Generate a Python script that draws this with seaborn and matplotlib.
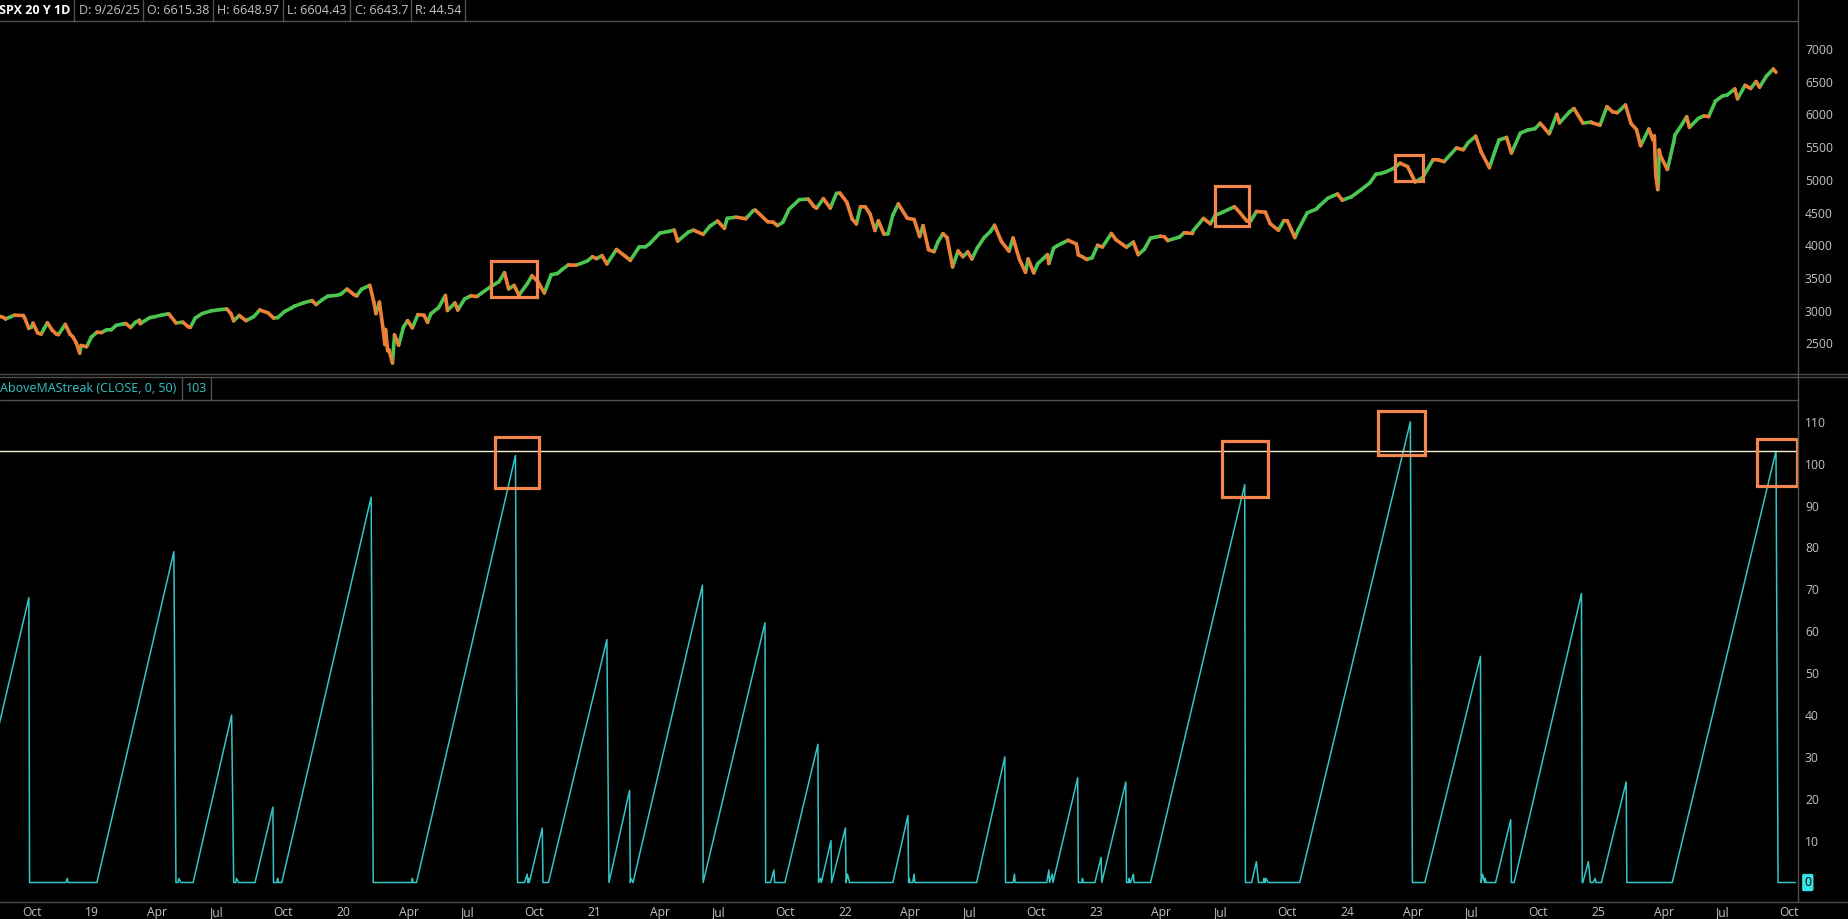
import pandas as pd
import seaborn as sns
import matplotlib.pyplot as plt
import matplotlib.dates as mdates
from matplotlib.patches import Rectangle
from matplotlib.lines import Line2D

# SPX closes (approx.), one list per year
spx_2018 = [("2018-08-24", 2875), ("2018-08-29", 2914), ("2018-09-04", 2896), ("2018-09-07", 2872),
            ("2018-09-20", 2930), ("2018-10-03", 2925), ("2018-10-05", 2885), ("2018-10-11", 2728),
            ("2018-10-15", 2750), ("2018-10-17", 2809), ("2018-10-24", 2656), ("2018-10-29", 2641),
            ("2018-11-02", 2723), ("2018-11-07", 2813), ("2018-11-14", 2701), ("2018-11-20", 2641),
            ("2018-11-23", 2633), ("2018-12-03", 2790), ("2018-12-10", 2637), ("2018-12-14", 2600),
            ("2018-12-19", 2506), ("2018-12-24", 2351), ("2018-12-26", 2467)]
spx_2019 = [("2019-01-03", 2448), ("2019-01-10", 2596), ("2019-01-18", 2670), ("2019-01-25", 2665),
            ("2019-02-01", 2707), ("2019-02-08", 2708), ("2019-02-15", 2775), ("2019-02-25", 2796),
            ("2019-03-01", 2803), ("2019-03-08", 2743), ("2019-03-15", 2822), ("2019-03-21", 2854),
            ("2019-03-22", 2801), ("2019-04-05", 2893), ("2019-04-12", 2907), ("2019-04-23", 2934),
            ("2019-04-30", 2946), ("2019-05-03", 2946), ("2019-05-13", 2812), ("2019-05-23", 2823),
            ("2019-05-31", 2752), ("2019-06-03", 2744), ("2019-06-10", 2886), ("2019-06-20", 2954),
            ("2019-07-03", 2996), ("2019-07-15", 3014), ("2019-07-26", 3025), ("2019-08-01", 2954),
            ("2019-08-05", 2844), ("2019-08-13", 2926), ("2019-08-23", 2847), ("2019-09-03", 2906),
            ("2019-09-12", 3009), ("2019-09-24", 2966), ("2019-10-02", 2887), ("2019-10-08", 2893),
            ("2019-10-18", 2986), ("2019-10-28", 3039), ("2019-11-01", 3067), ("2019-11-15", 3120),
            ("2019-11-27", 3153), ("2019-12-03", 3093), ("2019-12-12", 3168), ("2019-12-20", 3221)]
spx_2020 = [("2020-01-03", 3235), ("2020-01-08", 3253), ("2020-01-17", 3329), ("2020-01-27", 3244),
            ("2020-01-31", 3225), ("2020-02-07", 3327), ("2020-02-19", 3386), ("2020-02-25", 3128),
            ("2020-02-28", 2954), ("2020-03-04", 3130), ("2020-03-09", 2746), ("2020-03-12", 2481),
            ("2020-03-13", 2711), ("2020-03-16", 2386), ("2020-03-18", 2398), ("2020-03-23", 2200),
            ("2020-03-26", 2630), ("2020-04-01", 2471), ("2020-04-08", 2750), ("2020-04-14", 2846),
            ("2020-04-21", 2737), ("2020-04-29", 2939), ("2020-05-08", 2930), ("2020-05-13", 2820),
            ("2020-05-18", 2954), ("2020-05-29", 3044), ("2020-06-08", 3232), ("2020-06-11", 3002),
            ("2020-06-22", 3117), ("2020-06-26", 3009), ("2020-07-06", 3179), ("2020-07-15", 3226),
            ("2020-07-24", 3216), ("2020-07-31", 3271), ("2020-08-14", 3373), ("2020-08-25", 3443),
            ("2020-09-02", 3580), ("2020-09-08", 3332), ("2020-09-16", 3385), ("2020-09-23", 3237),
            ("2020-10-05", 3408), ("2020-10-12", 3534), ("2020-10-21", 3435), ("2020-10-30", 3270),
            ("2020-11-09", 3550), ("2020-11-18", 3567), ("2020-11-25", 3630), ("2020-12-04", 3699),
            ("2020-12-15", 3694), ("2020-12-31", 3756)]
spx_2021 = [("2021-01-08", 3824), ("2021-01-14", 3795), ("2021-01-22", 3841), ("2021-01-29", 3714),
            ("2021-02-12", 3934), ("2021-02-25", 3829), ("2021-03-04", 3768), ("2021-03-17", 3974),
            ("2021-03-26", 3975), ("2021-04-01", 4020), ("2021-04-16", 4185), ("2021-04-29", 4211),
            ("2021-05-07", 4232), ("2021-05-12", 4063), ("2021-05-28", 4204), ("2021-06-04", 4230),
            ("2021-06-18", 4166), ("2021-06-28", 4292), ("2021-07-09", 4370), ("2021-07-19", 4258),
            ("2021-07-23", 4411), ("2021-08-05", 4429), ("2021-08-19", 4405), ("2021-08-30", 4529),
            ("2021-09-02", 4537), ("2021-09-20", 4358), ("2021-09-28", 4352), ("2021-10-04", 4300),
            ("2021-10-12", 4350), ("2021-10-21", 4550), ("2021-11-05", 4697), ("2021-11-18", 4705),
            ("2021-11-26", 4595), ("2021-11-30", 4567), ("2021-12-10", 4712), ("2021-12-20", 4568),
            ("2021-12-29", 4793)]
spx_2022 = [("2022-01-03", 4797), ("2022-01-13", 4659), ("2022-01-21", 4398), ("2022-01-27", 4326),
            ("2022-02-02", 4589), ("2022-02-09", 4587), ("2022-02-16", 4475), ("2022-02-23", 4225),
            ("2022-02-28", 4374), ("2022-03-08", 4170), ("2022-03-14", 4173), ("2022-03-21", 4461),
            ("2022-03-29", 4632), ("2022-04-11", 4413), ("2022-04-21", 4393), ("2022-04-29", 4132),
            ("2022-05-04", 4300), ("2022-05-12", 3930), ("2022-05-20", 3901), ("2022-05-26", 4057),
            ("2022-06-02", 4177), ("2022-06-08", 4116), ("2022-06-16", 3667), ("2022-06-24", 3912),
            ("2022-07-01", 3825), ("2022-07-08", 3899), ("2022-07-14", 3790), ("2022-07-22", 3961),
            ("2022-08-01", 4119), ("2022-08-10", 4210), ("2022-08-16", 4305), ("2022-08-26", 4057),
            ("2022-09-06", 3909), ("2022-09-12", 4110), ("2022-09-21", 3789), ("2022-09-30", 3586),
            ("2022-10-04", 3791), ("2022-10-12", 3577), ("2022-10-18", 3720), ("2022-10-27", 3807),
            ("2022-11-01", 3856), ("2022-11-03", 3720), ("2022-11-10", 3956), ("2022-11-15", 3991),
            ("2022-12-01", 4076), ("2022-12-13", 4019), ("2022-12-16", 3852), ("2022-12-22", 3822),
            ("2022-12-28", 3783)]
spx_2023 = [("2023-01-05", 3808), ("2023-01-13", 3999), ("2023-01-20", 3972), ("2023-02-02", 4179),
            ("2023-02-09", 4081), ("2023-02-24", 3970), ("2023-03-06", 4048), ("2023-03-13", 3856),
            ("2023-03-22", 3937), ("2023-03-31", 4109), ("2023-04-14", 4137), ("2023-04-20", 4130),
            ("2023-04-25", 4071), ("2023-05-12", 4124), ("2023-05-19", 4191), ("2023-05-31", 4180),
            ("2023-06-01", 4221), ("2023-06-16", 4410), ("2023-06-26", 4328), ("2023-07-03", 4455),
            ("2023-07-14", 4505), ("2023-07-31", 4589), ("2023-08-08", 4499), ("2023-08-18", 4370),
            ("2023-08-24", 4376), ("2023-09-01", 4516), ("2023-09-14", 4505), ("2023-09-21", 4330),
            ("2023-10-03", 4229), ("2023-10-11", 4376), ("2023-10-16", 4373), ("2023-10-27", 4117),
            ("2023-11-01", 4238), ("2023-11-14", 4496), ("2023-11-27", 4550), ("2023-12-01", 4594),
            ("2023-12-14", 4719), ("2023-12-28", 4783)]
spx_2024 = [("2024-01-04", 4688), ("2024-01-17", 4739), ("2024-01-31", 4846), ("2024-02-13", 4953),
            ("2024-02-22", 5087), ("2024-02-29", 5096), ("2024-03-08", 5124), ("2024-03-19", 5178),
            ("2024-03-28", 5254), ("2024-04-08", 5202), ("2024-04-19", 4967), ("2024-04-30", 5036),
            ("2024-05-15", 5308), ("2024-05-22", 5307), ("2024-05-31", 5278), ("2024-06-18", 5487),
            ("2024-06-28", 5460), ("2024-07-05", 5567), ("2024-07-16", 5667), ("2024-07-24", 5427),
            ("2024-08-05", 5186), ("2024-08-13", 5434), ("2024-08-19", 5608), ("2024-08-30", 5648),
            ("2024-09-06", 5408), ("2024-09-19", 5713), ("2024-09-30", 5762), ("2024-10-10", 5780),
            ("2024-10-18", 5864), ("2024-10-31", 5705), ("2024-11-01", 5728), ("2024-11-11", 6001),
            ("2024-11-15", 5870), ("2024-11-29", 6032), ("2024-12-06", 6090), ("2024-12-19", 5867),
            ("2024-12-31", 5882)]
spx_2025 = [("2025-01-02", 5868), ("2025-01-13", 5836), ("2025-01-23", 6119), ("2025-01-31", 6041),
            ("2025-02-07", 6026), ("2025-02-19", 6144), ("2025-02-27", 5861), ("2025-03-07", 5770),
            ("2025-03-13", 5521), ("2025-03-25", 5777), ("2025-03-31", 5612), ("2025-04-02", 5671),
            ("2025-04-04", 5074), ("2025-04-07", 4850), ("2025-04-08", 4982), ("2025-04-09", 5457),
            ("2025-04-11", 5363), ("2025-04-21", 5158), ("2025-04-30", 5569), ("2025-05-02", 5686),
            ("2025-05-12", 5844), ("2025-05-19", 5963), ("2025-05-23", 5802), ("2025-06-05", 5939),
            ("2025-06-13", 5977), ("2025-06-20", 5967), ("2025-06-30", 6205), ("2025-07-10", 6280),
            ("2025-07-17", 6297), ("2025-07-28", 6389), ("2025-08-01", 6238), ("2025-08-12", 6445),
            ("2025-08-20", 6396), ("2025-08-28", 6502), ("2025-09-02", 6416), ("2025-09-12", 6584),
            ("2025-09-22", 6693), ("2025-09-26", 6644)]

# AboveMAStreak: each streak = (day it starts from 0, day of its peak, peak count)
streak_start = [
    "2018-07-06", "2018-12-04", "2019-01-18", "2019-05-16", "2019-06-07", "2019-08-08", "2019-09-05",
    "2019-10-07", "2019-10-14", "2020-04-20", "2020-04-27", "2020-10-01", "2020-10-06", "2020-10-08",
    "2020-11-05", "2021-02-01", "2021-03-04", "2021-03-08", "2021-06-18", "2021-09-24", "2021-10-15",
    "2021-12-03", "2021-12-07", "2021-12-22", "2022-01-12", "2022-03-21", "2022-04-13", "2022-04-19",
    "2022-07-21", "2022-09-12", "2022-10-31", "2022-11-04", "2022-11-09", "2022-12-21", "2023-01-09",
    "2023-01-19", "2023-02-27", "2023-03-02", "2023-03-31", "2023-08-25", "2023-09-11", "2023-09-14",
    "2023-11-03", "2024-05-03", "2024-07-24", "2024-07-29", "2024-08-14", "2024-09-10", "2024-12-19",
    "2025-01-03", "2025-01-15", "2025-04-28",
]
streak_peak_date = [
    "2018-10-11", "2018-12-06", "2019-05-10", "2019-05-17", "2019-08-02", "2019-08-09", "2019-10-01",
    "2019-10-08", "2020-02-21", "2020-04-21", "2020-09-18", "2020-10-05", "2020-10-07", "2020-10-27",
    "2021-01-29", "2021-03-03", "2021-03-05", "2021-06-17", "2021-09-16", "2021-09-29", "2021-12-02",
    "2021-12-06", "2021-12-21", "2022-01-11", "2022-01-14", "2022-04-12", "2022-04-14", "2022-04-21",
    "2022-08-31", "2022-09-14", "2022-11-03", "2022-11-08", "2022-12-15", "2022-12-22", "2023-01-18",
    "2023-02-23", "2023-02-28", "2023-03-06", "2023-08-15", "2023-09-01", "2023-09-12", "2023-09-15",
    "2024-04-12", "2024-07-23", "2024-07-26", "2024-07-30", "2024-09-05", "2024-12-17", "2024-12-27",
    "2025-01-06", "2025-02-20", "2025-09-26",
]
streak_peak = [
    68, 1, 79, 1, 40, 1, 18,
    1, 92, 1, 102, 2, 1, 13,
    58, 22, 1, 71, 62, 3, 33,
    1, 10, 13, 2, 16, 1, 2,
    30, 2, 3, 2, 25, 1, 6,
    24, 1, 2, 95, 5, 1, 1,
    110, 54, 2, 1, 15, 69, 5,
    1, 24, 103,
]
chart_end = "2025-10-24"
current_streak = 103

header_cells = ["D: 9/26/25", "O: 6615.38", "H: 6648.97", "L: 6604.43", "C: 6643.7", "R: 44.54"]

tick_dates = pd.date_range("2018-10-01", "2025-10-01", freq="QS-JAN")
tick_labels = [d.strftime("%y") if d.month == 1 else d.strftime("%b") for d in tick_dates]

# highlight boxes: (from, to, low, high)
price_boxes = [("2020-08-14", "2020-10-19", 3203, 3763),
               ("2023-07-03", "2023-08-21", 4289, 4901),
               ("2024-03-20", "2024-05-01", 4977, 5375)]
streak_boxes = [("2020-08-19", "2020-10-22", 94.3, 106.4),
                ("2023-07-13", "2023-09-18", 92.0, 105.3),
                ("2024-02-25", "2024-05-03", 102.1, 112.5),
                ("2025-08-29", "2025-10-27", 94.6, 105.8)]

GREEN, ORANGE, CYAN = "#4cc552", "#ee7f36", "#33c6c6"
BOX = "#f4854f"
GRID = "#505050"
TXT = "#c4c4c4"

sns.set_theme(style="dark", rc={"axes.facecolor": "black", "figure.facecolor": "black"})
plt.rcParams["font.family"] = ["Open Sans", "DejaVu Sans"]

W, H = 1849, 919
fig = plt.figure(figsize=(W / 100, H / 100), dpi=100)
fig.patch.set_facecolor("black")


def px_rect(x0, y0, x1, y1):
    return [x0 / W, 1 - y1 / H, (x1 - x0) / W, (y1 - y0) / H]


ax1 = fig.add_axes(px_rect(0, 21, 1798, 374))
ax2 = fig.add_axes(px_rect(0, 400, 1798, 902))

# price as up/down coloured segments
px = pd.DataFrame(spx_2018 + spx_2019 + spx_2020 + spx_2021 + spx_2022 + spx_2023 + spx_2024 + spx_2025,
                  columns=["date", "close"])
px["date"] = pd.to_datetime(px["date"])
px = px.sort_values("date").reset_index(drop=True)
rows = []
for i in range(1, len(px)):
    d = "up" if px.close[i] >= px.close[i - 1] else "down"
    rows.append((i, d, px.date[i - 1], px.close[i - 1]))
    rows.append((i, d, px.date[i], px.close[i]))
seg = pd.DataFrame(rows, columns=["seg", "dir", "date", "close"])
sns.lineplot(data=seg, x="date", y="close", units="seg", hue="dir", estimator=None, sort=False,
             palette={"up": GREEN, "down": ORANGE}, lw=2.6, legend=False, ax=ax1)

# streak vertices
sx, sy = [], []
for s, p, v in zip(streak_start, streak_peak_date, streak_peak):
    p = pd.Timestamp(p)
    sx += [pd.Timestamp(s), p, p + pd.offsets.BDay(1)]
    sy += [0, v, 0]
sx.append(pd.Timestamp(chart_end))
sy.append(0)
streak = pd.DataFrame({"date": sx, "value": sy})
sns.lineplot(data=streak, x="date", y="value", estimator=None, sort=False, color=CYAN, lw=1.1, ax=ax2)
ax2.axhline(current_streak, color="#f3efcf", lw=1)

for ax, boxes in ((ax1, price_boxes), (ax2, streak_boxes)):
    for a, b, lo, hi in boxes:
        x0 = mdates.date2num(pd.Timestamp(a))
        x1 = mdates.date2num(pd.Timestamp(b))
        ax.add_patch(Rectangle((x0, lo), x1 - x0, hi - lo, fill=False, ec=BOX, lw=2.3, zorder=5))

xlim = (pd.Timestamp("2018-08-30"), pd.Timestamp("2025-10-28"))
for ax in (ax1, ax2):
    ax.set_xlim(*xlim)
    ax.grid(False)
    ax.set_xlabel("")
    ax.set_ylabel("")
    for s in ax.spines.values():
        s.set_visible(False)
    ax.yaxis.tick_right()
    ax.tick_params(axis="both", length=0, labelsize=8.7, labelcolor=TXT)
    ax.tick_params(axis="y", pad=5)

ax1.set_ylim(2031, 7428)
ax1.set_yticks(range(2500, 7001, 500))
ax1.set_xticks([])

ax2.set_ylim(-4.65, 115.2)
ax2.set_yticks(range(10, 111, 10))
ax2.set_xticks(tick_dates)
ax2.set_xticklabels(tick_labels)
ax2.tick_params(axis="x", pad=3)
for lbl in ax2.get_xticklabels():
    lbl.set_ha("left")
ax2.text(1.0035, 0, "0", transform=ax2.get_yaxis_transform(), ha="left", va="center",
         fontsize=8.7, color="black",
         bbox=dict(boxstyle="round,pad=0.18,rounding_size=0.15", fc="#37e3e3", ec="none"))


def hline(y, x0=0, x1=W):
    fig.add_artist(Line2D([x0 / W, x1 / W], [1 - y / H] * 2, color=GRID, lw=1))


def vline(x, y0, y1):
    fig.add_artist(Line2D([x / W] * 2, [1 - y0 / H, 1 - y1 / H], color=GRID, lw=1))


hline(21, 0, 1798)
hline(374)
hline(377)
hline(400, 0, 1798)
hline(902)
vline(1798, 0, 902)

# header of price panel
fig.text(-1 / W, 1 - 10.5 / H, "SPX 20 Y 1D", color="white", weight="bold", fontsize=9, va="center")
cell_x = [79, 147.5, 217.5, 287.5, 354.7, 415]
for x, t in zip(cell_x, header_cells):
    fig.text(x / W, 1 - 10.5 / H, t, color=TXT, fontsize=9, va="center")
for x in [74, 143, 213.5, 283.5, 350, 411, 465.4]:
    vline(x, 0, 21)

# header of study panel
fig.text(0, 1 - 389 / H, "AboveMAStreak (CLOSE, 0, 50)", color=CYAN, fontsize=9, va="center")
fig.text(185.7 / W, 1 - 389 / H, str(current_streak), color=CYAN, fontsize=9, va="center")
for x in [181.7, 211.3]:
    vline(x, 377, 400)

fig.savefig("out.png", dpi=100, facecolor="black")
